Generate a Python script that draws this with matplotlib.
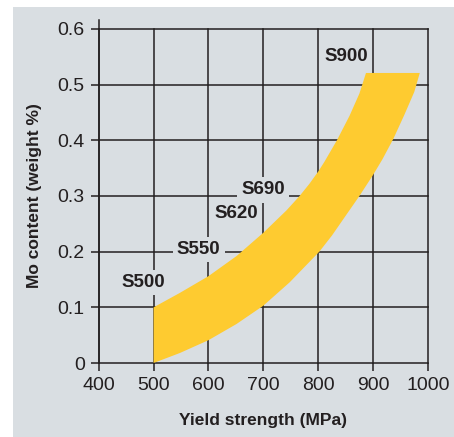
import matplotlib
matplotlib.use("Agg")
import matplotlib.pyplot as plt
from matplotlib.patches import Rectangle

# ---- data ----
upper_mpa = [500, 548, 600, 651, 700, 742, 766, 784, 800, 811, 834, 857, 875, 887]
upper_mo = [0.100, 0.126, 0.156, 0.192, 0.234, 0.274, 0.300, 0.322, 0.344, 0.361,
            0.400, 0.444, 0.484, 0.521]
lower_mpa = [985, 975, 957, 937, 917, 900, 875, 851, 825, 802, 748, 700, 651, 600, 548, 500]
lower_mo = [0.521, 0.487, 0.446, 0.403, 0.366, 0.338, 0.300, 0.266, 0.229, 0.200,
            0.145, 0.103, 0.070, 0.041, 0.018, 0.0]

grade_labels = ["S500", "S550", "S620", "S690", "S900"]
grade_x = [482, 582, 650, 699, 851]
grade_y = [0.144, 0.204, 0.268, 0.311, 0.55]

x_ticks = [400, 500, 600, 700, 800, 900, 1000]
y_ticks = [0, 0.1, 0.2, 0.3, 0.4, 0.5, 0.6]
y_ticklabels = ["0", "0.1", "0.2", "0.3", "0.4", "0.5", "0.6"]

BG = "#d9dee2"
INK = "#231f20"
YELLOW = "#fecb30"
SANS = ["Liberation Sans", "DejaVu Sans"]

fig = plt.figure(figsize=(4.54, 4.37), dpi=100, facecolor="white")
fig.patches.append(Rectangle((13 / 454, 0), 1 - 13 / 454, 1 - 7 / 437,
                             transform=fig.transFigure, facecolor=BG,
                             edgecolor="none", zorder=-10))

ax = fig.add_axes([98.7 / 454, 74 / 437, (428 - 98.7) / 454, (363.3 - 29.3) / 437])
ax.set_facecolor(BG)
ax.set_xlim(400, 1000)
ax.set_ylim(0, 0.6)

ax.fill(upper_mpa + lower_mpa, upper_mo + lower_mo, color=YELLOW, lw=0, zorder=1)

ax.set_xticks(x_ticks)
ax.set_yticks(y_ticks)
ax.set_yticklabels(y_ticklabels)
ax.grid(True, color=INK, lw=1.1, zorder=0.5)
ax.set_axisbelow(True)
for ln in ax.get_xgridlines() + ax.get_ygridlines():
    ln.set_clip_on(False)

for s in ["top", "right", "bottom"]:
    ax.spines[s].set_visible(False)
ax.spines["left"].set_color(INK)
ax.spines["left"].set_linewidth(1.1)
ax.spines["left"].set_bounds(0, 0.616)

ax.tick_params(direction="out", length=6, width=1.1, color=INK,
               labelcolor=INK, labelsize=14, pad=4)
for lab in ax.get_xticklabels() + ax.get_yticklabels():
    lab.set_family(SANS)

for t, x, y in zip(grade_labels, grade_x, grade_y):
    ax.text(x, y, t, ha="center", va="center", fontsize=13.5, fontweight="bold",
            color=INK, family=SANS, zorder=3,
            bbox=dict(boxstyle="square,pad=0.22", facecolor=BG, edgecolor="none"))

ax.set_xlabel("Yield strength (MPa)", fontsize=12.5, fontweight="bold",
              family=SANS, color=INK, labelpad=14)
ax.set_ylabel("Mo content (weight %)", fontsize=12.5, fontweight="bold",
              family=SANS, color=INK, labelpad=11)

fig.savefig("out.png", dpi=100, facecolor="white")
